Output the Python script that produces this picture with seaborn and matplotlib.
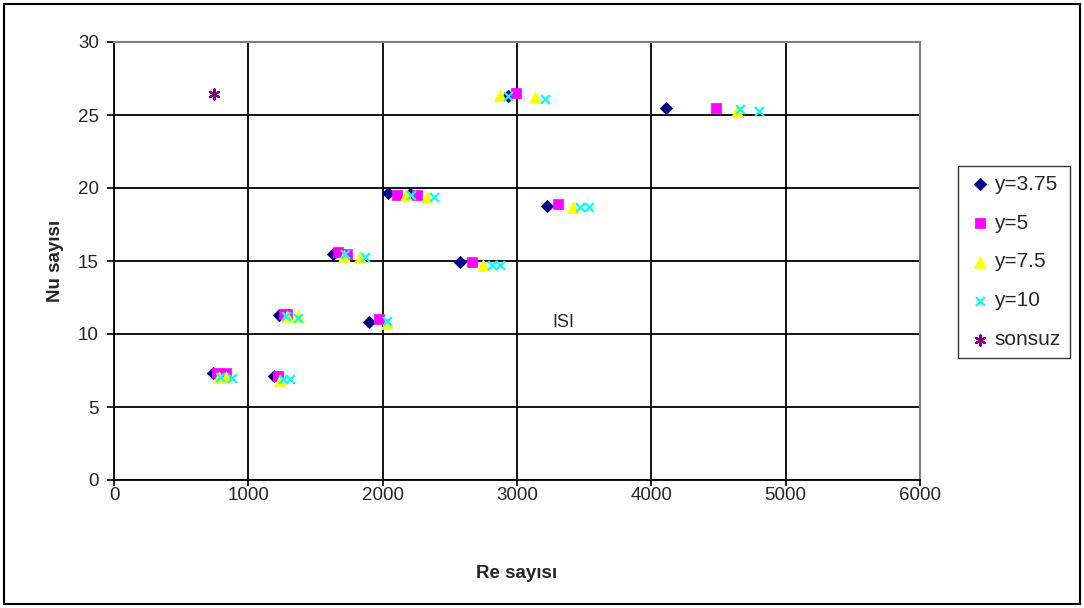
import matplotlib
matplotlib.use("Agg")
import matplotlib.pyplot as plt
from matplotlib.patches import Rectangle
import pandas as pd
import seaborn as sns

# values
re_375 = [737, 1190, 1225, 1899, 1628, 2576, 2040, 2200, 3224, 2933, 4110]
nu_375 = [7.3, 7.1, 11.3, 10.8, 15.5, 14.9, 19.65, 19.6, 18.8, 26.3, 25.5]

re_5 = [767, 834, 1220, 1266, 1290, 1973, 1668, 1735, 2665, 2107, 2256, 3305, 2993, 4482]
nu_5 = [7.35, 7.35, 7.1, 11.35, 11.35, 11.0, 15.6, 15.5, 14.9, 19.5, 19.5, 18.9, 26.5, 25.5]

re_75 = [782, 834, 1236, 1290, 1370, 2033, 1712, 1832, 2747, 2174, 2330, 3417, 2874, 3134, 4638]
nu_75 = [7.05, 7.05, 6.85, 11.2, 11.2, 10.75, 15.35, 15.3, 14.7, 19.55, 19.4, 18.7, 26.4, 26.2, 25.3]

re_10 = [790, 879, 1258, 1310, 1280, 1370, 2033, 1720, 1869, 2814, 2874,
         2211, 2382, 3470, 3537, 2933, 3209, 4660, 4800]
nu_10 = [7.05, 7.0, 6.9, 6.9, 11.2, 11.1, 10.9, 15.5, 15.3, 14.7, 14.7,
         19.5, 19.4, 18.7, 18.7, 26.3, 26.1, 25.4, 25.25]

re_inf = [744]
nu_inf = [26.45]

series_labels = ["y=3.75", "y=5", "y=7.5", "y=10", "sonsuz"]

sns.set_style("white")
plt.rcParams['font.family'] = ['Liberation Sans', 'DejaVu Sans']

fig = plt.figure(figsize=(10.84, 6.08), dpi=100)
ax = fig.add_axes([114 / 1084, 1 - 480 / 608, (920 - 114) / 1084, (480 - 42) / 608])

series = [
    (re_375, nu_375, "#000080", "D", 40),
    (re_5, nu_5, "#FF00FF", "s", 48),
    (re_75, nu_75, "#FFFF00", "^", 70),
    (re_10, nu_10, "#00FFFF", "x", 40),
    (re_inf, nu_inf, "#800080", (6, 2, 0), 55),
]

for (xs, ys, col, mk, size), lab in zip(series, series_labels):
    df = pd.DataFrame({"Re": xs, "Nu": ys})
    if mk == "x" or isinstance(mk, tuple):
        sns.scatterplot(data=df, x="Re", y="Nu", ax=ax, marker=mk, color=col,
                        s=size, linewidth=1.6, label=lab, zorder=3)
    else:
        sns.scatterplot(data=df, x="Re", y="Nu", ax=ax, marker=mk, color=col,
                        edgecolor=col, s=size, linewidth=0.5, label=lab, zorder=3)

ax.set_xlim(0, 6000)
ax.set_ylim(0, 30)
ax.set_xticks(range(0, 6001, 1000))
ax.set_yticks(range(0, 31, 5))
ax.grid(True, color="black", linewidth=1.3)
ax.set_axisbelow(True)

for side in ("left", "bottom"):
    ax.spines[side].set_color("black")
    ax.spines[side].set_linewidth(1.3)
for side in ("top", "right"):
    ax.spines[side].set_color("#808080")
    ax.spines[side].set_linewidth(1.5)

ax.tick_params(axis="y", direction="out", length=5, width=1.2, color="black",
               labelsize=13.5, pad=6, left=True)
ax.tick_params(axis="x", direction="out", length=4, width=1.2, color="black",
               labelsize=13.5, pad=1, bottom=True)

ax.set_xlabel("Re sayısı", fontsize=13.5, fontweight="bold", labelpad=44)
ax.set_ylabel("Nu sayısı", fontsize=13.5, fontweight="bold", labelpad=10)

ax.text(3343, 10.8, "ISI", fontsize=13, ha="center", va="center")

leg = ax.legend(loc="center left", bbox_to_anchor=(958 / 1084, 1 - 262 / 608),
                bbox_transform=fig.transFigure, frameon=True, fancybox=False,
                edgecolor="black", fontsize=15, labelspacing=0.95,
                handletextpad=0.1, borderpad=0.45, handlelength=1.2,
                borderaxespad=0)
leg.get_frame().set_linewidth(1.0)

fig.patches.append(Rectangle((4 / 1084, 4 / 608), 1076 / 1084, 600 / 608,
                             transform=fig.transFigure, fill=False,
                             edgecolor="black", linewidth=1.5))

fig.savefig("out.png", dpi=100)
